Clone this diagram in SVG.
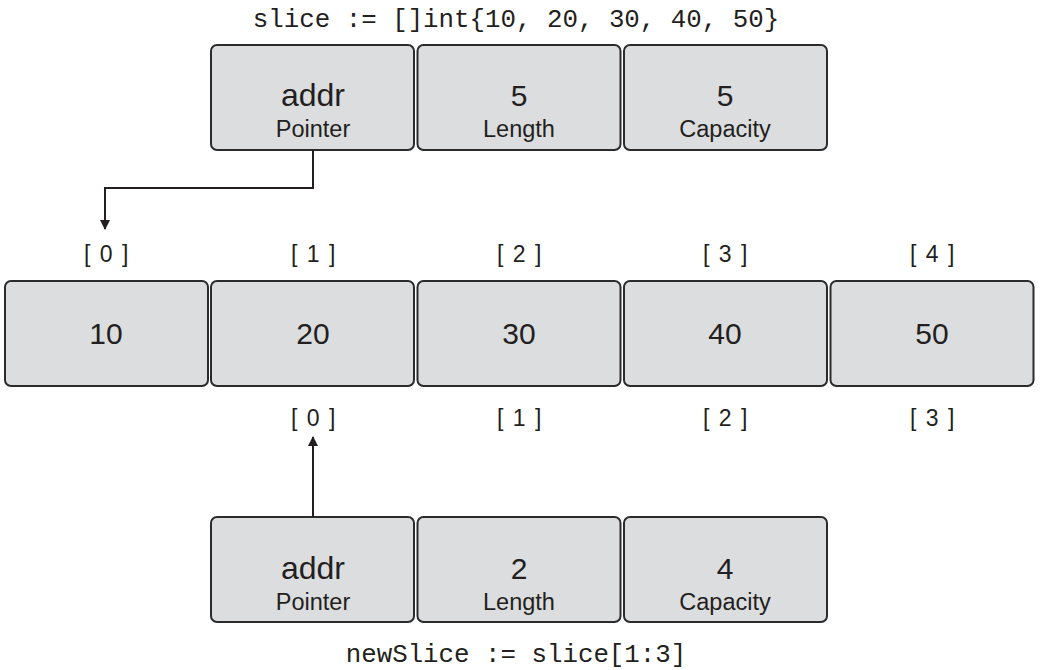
<svg xmlns="http://www.w3.org/2000/svg" width="1042" height="670" viewBox="0 0 1042 670">
<style>
.box{fill:#dcdddf;stroke:#2b2b2b;stroke-width:2}
.big{font-family:"Liberation Sans",Arial,sans-serif;font-size:30px;fill:#231f20;text-anchor:middle}
.word{font-family:"Liberation Sans",Arial,sans-serif;font-size:32px;fill:#231f20;text-anchor:middle}
.small{font-family:"Liberation Sans",Arial,sans-serif;font-size:23.5px;fill:#231f20;text-anchor:middle}
.idx{font-family:"Liberation Sans",Arial,sans-serif;font-size:23px;letter-spacing:1.5px;fill:#231f20;text-anchor:middle}
.code{font-family:"Liberation Mono","Courier New",monospace;font-size:25.8px;fill:#231f20;text-anchor:middle}
.conn{fill:none;stroke:#231f20;stroke-width:2}
</style>
<defs>
<marker id="arr" markerWidth="10" markerHeight="10" refX="9" refY="5" orient="auto" markerUnits="userSpaceOnUse">
<path d="M0,0 L10,5 L0,10 z" fill="#231f20"/>
</marker>
</defs>
<text class="code" x="516" y="27">slice := []int{10, 20, 30, 40, 50}</text>
<g id="top-pointer"><rect class="box" x="211" y="45" width="203" height="105" rx="6"/><text class="word" x="313" y="106">addr</text><text class="small" x="313" y="137">Pointer</text></g>
<g id="top-length"><rect class="box" x="417.5" y="45" width="203" height="105" rx="6"/><text class="big" x="519" y="106">5</text><text class="small" x="519" y="137">Length</text></g>
<g id="top-capacity"><rect class="box" x="624" y="45" width="203" height="105" rx="6"/><text class="big" x="725" y="106">5</text><text class="small" x="725" y="137">Capacity</text></g>
<g id="idx-top">
<text class="idx" x="107" y="262">[ 0 ]</text>
<text class="idx" x="314" y="262">[ 1 ]</text>
<text class="idx" x="520" y="262">[ 2 ]</text>
<text class="idx" x="726" y="262">[ 3 ]</text>
<text class="idx" x="933" y="262">[ 4 ]</text>
</g>
<g id="el0"><rect class="box" x="5" y="281" width="203" height="105" rx="6"/><text class="big" x="106" y="344">10</text></g>
<g id="el1"><rect class="box" x="211" y="281" width="203" height="105" rx="6"/><text class="big" x="313" y="344">20</text></g>
<g id="el2"><rect class="box" x="417.5" y="281" width="203" height="105" rx="6"/><text class="big" x="519" y="344">30</text></g>
<g id="el3"><rect class="box" x="624" y="281" width="203" height="105" rx="6"/><text class="big" x="725" y="344">40</text></g>
<g id="el4"><rect class="box" x="830.5" y="281" width="203" height="105" rx="6"/><text class="big" x="932" y="344">50</text></g>
<g id="idx-bottom">
<text class="idx" x="314" y="426">[ 0 ]</text>
<text class="idx" x="520" y="426">[ 1 ]</text>
<text class="idx" x="726" y="426">[ 2 ]</text>
<text class="idx" x="933" y="426">[ 3 ]</text>
</g>
<g id="bot-pointer"><rect class="box" x="211" y="517" width="203" height="105" rx="6"/><text class="word" x="313" y="579">addr</text><text class="small" x="313" y="610">Pointer</text></g>
<g id="bot-length"><rect class="box" x="417.5" y="517" width="203" height="105" rx="6"/><text class="big" x="519" y="579">2</text><text class="small" x="519" y="610">Length</text></g>
<g id="bot-capacity"><rect class="box" x="624" y="517" width="203" height="105" rx="6"/><text class="big" x="725" y="579">4</text><text class="small" x="725" y="610">Capacity</text></g>
<text class="code" x="516" y="662">newSlice := slice[1:3]</text>
<g id="connectors">
<path class="conn" d="M313,150 V188 H105 V229" marker-end="url(#arr)"/>
<path class="conn" d="M313,517 V437" marker-end="url(#arr)"/>
</g>
</svg>
